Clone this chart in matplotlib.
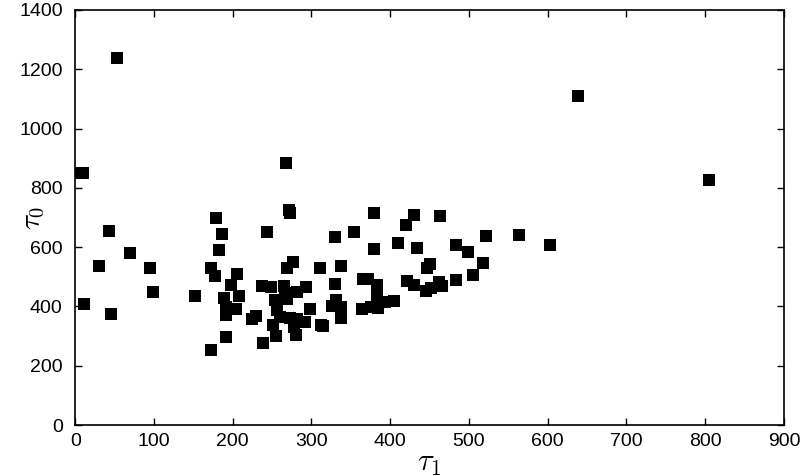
import matplotlib
matplotlib.use('Agg')
import matplotlib.pyplot as plt

# tau_1 and tau_0 values
tau1 = [0, 10, 53, 43, 30, 69, 95, 99, 11, 46,
        179, 186, 183, 271, 273, 244, 330, 152, 172, 178,
        205, 198, 208, 189, 192, 204, 192, 192, 172, 238,
        224, 230, 237, 248, 265, 254, 269, 282, 293, 256,
        260, 273, 282, 292, 251, 255, 280, 278, 298, 312,
        311, 269, 277, 330, 326, 266, 268,
        379, 430, 420, 463, 354, 379, 410, 434, 483, 499,
        522, 564, 603, 338, 451, 447, 518, 505, 484, 372,
        366, 383, 383, 421, 430, 445, 452, 462, 466, 331,
        338, 338, 315, 364, 375, 384, 394, 405, 383,
        639, 805]
tau0 = [850, 850, 1238, 655, 538, 580, 531, 449, 410, 373,
        697, 645, 589, 724, 715, 652, 635, 434, 529, 503,
        509, 472, 437, 427, 397, 390, 371, 296, 252, 276,
        357, 368, 469, 465, 469, 422, 424, 450, 465, 388,
        365, 360, 357, 346, 337, 300, 304, 332, 390, 336,
        529, 529, 550, 476, 401, 444, 884,
        714, 707, 675, 705, 652, 595, 615, 598, 608, 584,
        638, 641, 608, 536, 543, 531, 545, 505, 489, 492,
        492, 472, 444, 486, 472, 453, 461, 484, 469, 422,
        397, 361, 335, 392, 399, 394, 416, 418, 422,
        1110, 828]

plt.rcParams['font.family'] = ['Liberation Sans', 'DejaVu Sans']
plt.rcParams['mathtext.fontset'] = 'cm'

fig = plt.figure(figsize=(8, 4.76), dpi=100)
ax = fig.add_axes([0.094, 0.107, 0.886, 0.872])
ax.scatter(tau1, tau0, marker='s', s=70, c='black', linewidths=0)

ax.set_xlim(0, 900)
ax.set_ylim(0, 1400)
ax.set_xticks(range(0, 901, 100))
ax.set_yticks(range(0, 1401, 200))
ax.tick_params(direction='in', top=True, right=True, length=5, width=1,
               labelsize=14)
ax.tick_params(axis='y', pad=9)
ax.tick_params(axis='x', pad=6)
for sp in ax.spines.values():
    sp.set_linewidth(1.2)
ax.set_xlabel(r'$\tau_1$', fontsize=22, labelpad=-2)
ax.set_ylabel(r'$\tau_0$', fontsize=21)
ax.yaxis.set_label_coords(-0.04, 0.5)

fig.savefig('out.png', dpi=100)
